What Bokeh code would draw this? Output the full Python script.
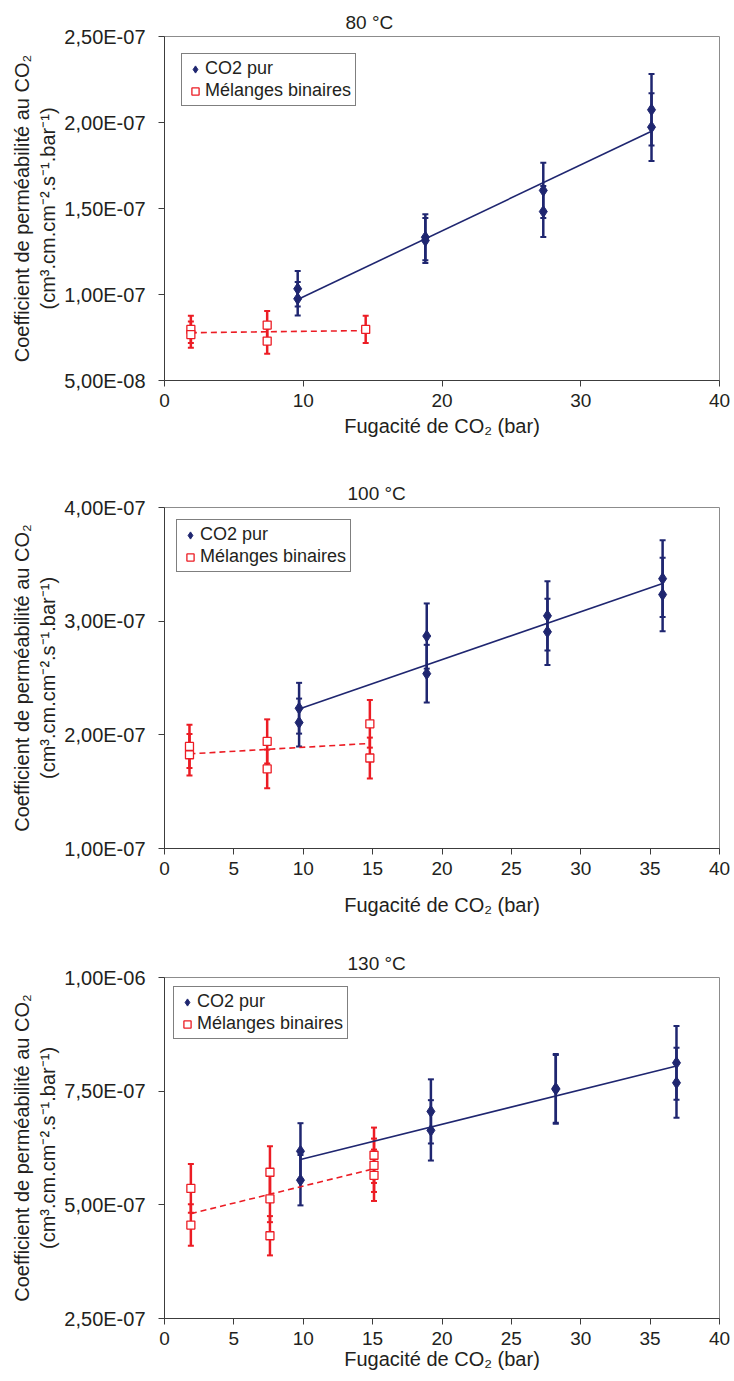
import numpy as np
from bokeh.plotting import figure
from bokeh.models import (Range1d, FixedTicker, Whisker, ColumnDataSource,
                          Legend, LegendItem, TeeHead)
from bokeh.layouts import column
from bokeh.embed import file_html
from bokeh.resources import INLINE

# ---------------- data ----------------
titles = ["80 °C", "100 °C", "130 °C"]
series_names = ["CO2 pur", "Mélanges binaires"]

# 80 °C
x_pur_80 = [9.6, 9.6, 18.8, 18.8, 27.3, 27.3, 35.1, 35.1]
y_pur_80 = [1.033e-07, 0.975e-07, 1.333e-07, 1.314e-07, 1.605e-07, 1.482e-07, 2.074e-07, 1.973e-07]
x_mel_80 = [1.9, 1.9, 7.4, 7.4, 14.5]
y_mel_80 = [0.797e-07, 0.767e-07, 0.822e-07, 0.729e-07, 0.797e-07]

# 100 °C
x_pur_100 = [9.7, 9.7, 18.9, 18.9, 27.6, 27.6, 35.9, 35.9]
y_pur_100 = [2.234e-07, 2.108e-07, 2.869e-07, 2.538e-07, 3.047e-07, 2.906e-07, 3.374e-07, 3.234e-07]
x_mel_100 = [1.8, 1.8, 7.4, 7.4, 14.8, 14.8]
y_mel_100 = [1.898e-07, 1.825e-07, 1.942e-07, 1.700e-07, 2.097e-07, 1.796e-07]

# 130 °C
x_pur_130 = [9.8, 9.8, 19.2, 19.2, 28.2, 28.2, 36.9, 36.9]
y_pur_130 = [6.178e-07, 5.542e-07, 7.055e-07, 6.638e-07, 7.560e-07, 7.540e-07, 8.123e-07, 7.684e-07]
x_mel_130 = [1.9, 1.9, 7.6, 7.6, 7.6, 15.1, 15.1, 15.1]
y_mel_130 = [5.360e-07, 4.555e-07, 5.717e-07, 5.132e-07, 4.320e-07, 6.090e-07, 5.870e-07, 5.650e-07]

# relative error bars (Excel "percentage" error bars)
err_fraction = 0.10

# axis ticks
x_ticks_80 = [0, 10, 20, 30, 40]
x_ticks_other = [0, 5, 10, 15, 20, 25, 30, 35, 40]
y_ticks_80 = [5.0e-08, 1.0e-07, 1.5e-07, 2.0e-07, 2.5e-07]
y_ticks_100 = [1.0e-07, 2.0e-07, 3.0e-07, 4.0e-07]
y_ticks_130 = [2.5e-07, 5.0e-07, 7.5e-07, 1.0e-06]

# ---------------- styling ----------------
FONT = "Liberation Sans"
TXT = "#231f20"
NAVY = "#1f2670"
RED = "#ec1c24"
SCALE = 1e9  # plot in units of 1e-9 so tick keys are integers


def fmt_sci(v):
    return ("%.2E" % v).replace(".", ",")


def make_panel(title, xp, yp, xm, ym, xticks, yticks, height, bl, bt, bb, br,
               leg_margin, title_offset, xlabel_standoff):
    ymin, ymax = yticks[0] * SCALE, yticks[-1] * SCALE
    p = figure(width=730, height=height, x_range=Range1d(0, 40),
               y_range=Range1d(ymin, ymax), output_backend="svg",
               toolbar_location=None, min_border_left=bl, min_border_right=br,
               min_border_top=bt, min_border_bottom=bb, title=title)
    p.title.align = "left"
    p.title.offset = title_offset
    p.title.text_font = FONT
    p.title.text_font_size = "19px"
    p.title.text_font_style = "normal"
    p.title.text_color = TXT
    p.title.standoff = 8
    p.xgrid.visible = False
    p.ygrid.visible = False
    p.outline_line_color = "#8c8c8c"
    p.outline_line_width = 1
    p.background_fill_color = "white"
    p.border_fill_color = "white"

    ytick_vals = [int(round(t * SCALE)) for t in yticks]
    p.yaxis.ticker = FixedTicker(ticks=ytick_vals)
    p.yaxis.major_label_overrides = {v: fmt_sci(t) for v, t in zip(ytick_vals, yticks)}
    p.xaxis.ticker = FixedTicker(ticks=xticks)

    for ax in (p.xaxis[0], p.yaxis[0]):
        ax.axis_line_color = "#3c3c3c"
        ax.axis_line_width = 1
        ax.major_tick_line_color = "#3c3c3c"
        ax.major_tick_out = 6
        ax.major_tick_in = 0
        ax.minor_tick_line_color = None
        ax.major_label_text_font = FONT
        ax.major_label_text_color = TXT
        ax.axis_label_text_font = FONT
        ax.axis_label_text_font_size = "20px"
        ax.axis_label_text_font_style = "normal"
        ax.axis_label_text_color = TXT

    p.xaxis.major_label_text_font_size = "19px"
    p.yaxis.major_label_text_font_size = "20px"
    p.xaxis.axis_label = "Fugacité de CO₂ (bar)"
    p.xaxis.major_label_standoff = 7
    p.xaxis.axis_label_standoff = xlabel_standoff
    p.yaxis.axis_label = "Coefficient de perméabilité au CO₂\n(cm³.cm.cm⁻².s⁻¹.bar⁻¹)"
    p.yaxis.major_label_standoff = 13
    p.yaxis.axis_label_standoff = 2

    renderers = []
    for xs, ys, color, kind in ((xm, ym, RED, "mel"), (xp, yp, NAVY, "pur")):
        xs = np.asarray(xs, dtype=float)
        ys = np.asarray(ys, dtype=float) * SCALE
        src = ColumnDataSource(dict(x=xs, y=ys,
                                    upper=ys * (1 + err_fraction),
                                    lower=ys * (1 - err_fraction)))
        wh = Whisker(base="x", upper="upper", lower="lower", source=src,
                     dimension="height", line_color=color, line_width=2.5,
                     upper_head=TeeHead(size=6, line_color=color, line_width=2),
                     lower_head=TeeHead(size=6, line_color=color, line_width=2))
        p.add_layout(wh)
        # linear trend line (least squares over the series)
        a, b = np.polyfit(xs, ys, 1)
        xf = np.array([xs.min(), xs.max()])
        if kind == "pur":
            p.line(xf, a * xf + b, line_color=color, line_width=1.6)
            r = p.scatter("x", "y", source=src, marker="diamond", size=12,
                          fill_color=color, line_color=color, line_width=1)
        else:
            p.line(xf, a * xf + b, line_color=color, line_width=1.6, line_dash="6 4")
            r = p.scatter("x", "y", source=src, marker="square", size=8,
                          fill_color="white", line_color=color, line_width=1.3)
        renderers.append(r)

    legend = Legend(items=[LegendItem(label=series_names[0], renderers=[renderers[1]]),
                           LegendItem(label=series_names[1], renderers=[renderers[0]])],
                    location="top_left")
    legend.margin = leg_margin
    legend.padding = 4
    legend.spacing = 1
    legend.glyph_width = 18
    legend.glyph_height = 20
    legend.label_height = 20
    legend.label_standoff = 1
    legend.label_text_font = FONT
    legend.label_text_font_size = "18px"
    legend.label_text_color = TXT
    legend.border_line_color = "black"
    legend.border_line_width = 1
    legend.background_fill_color = "white"
    legend.background_fill_alpha = 1
    p.add_layout(legend)
    return p


p1 = make_panel(titles[0], x_pur_80, y_pur_80, x_mel_80, y_mel_80,
                x_ticks_80, y_ticks_80, 455, 164, 36, 75, 10, 17, 181, 5)
p2 = make_panel(titles[1], x_pur_100, y_pur_100, x_mel_100, y_mel_100,
                x_ticks_other, y_ticks_100, 475, 157, 52, 82, 11, 12, 183, 16)
p3 = make_panel(titles[2], x_pur_130, y_pur_130, x_mel_130, y_mel_130,
                x_ticks_other, y_ticks_130, 448, 157, 47, 60, 11, 9, 183, 0)

layout = column(p1, p2, p3, spacing=0)
open("out.html", "w").write(file_html(layout, INLINE))
